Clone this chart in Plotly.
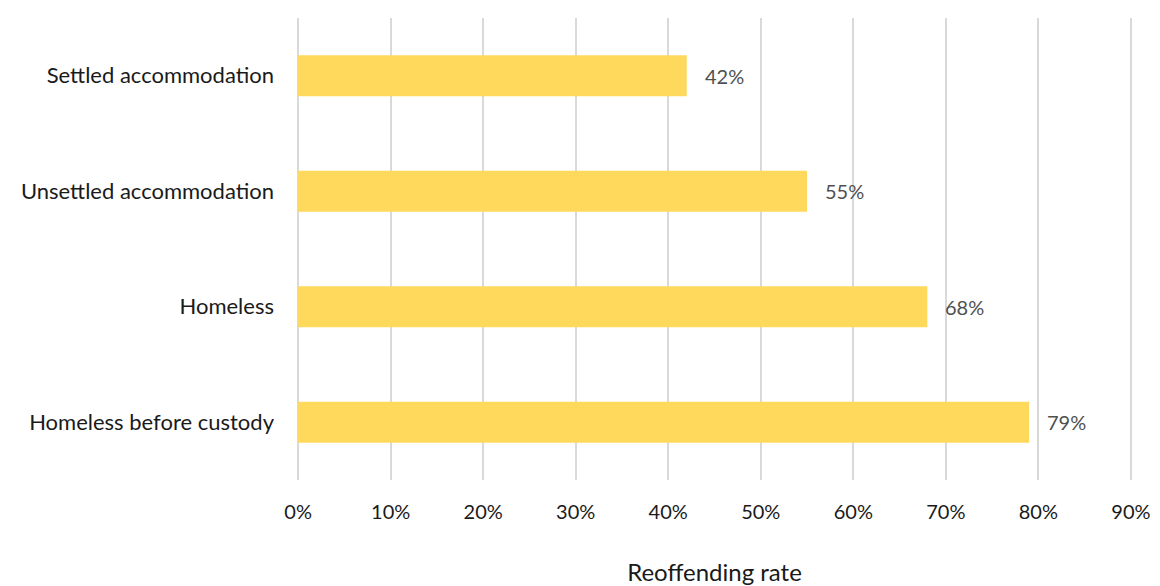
import plotly.graph_objects as go

categories = ["Homeless before custody", "Homeless", "Unsettled accommodation", "Settled accommodation"]
values = [79, 68, 55, 42]
tick_vals = [0, 10, 20, 30, 40, 50, 60, 70, 80, 90]
tick_text = [f"{v}%" for v in tick_vals]

bar_color = "#FFD95C"
font_family = "Lato, 'Open Sans', sans-serif"

fig = go.Figure()
fig.add_trace(go.Bar(
    x=values,
    y=categories,
    orientation="h",
    marker=dict(color=bar_color, line=dict(width=0)),
    width=0.355,
    hoverinfo="skip",
))

for c, v in zip(categories, values):
    fig.add_annotation(
        x=v, y=c, text=f"{v}%", showarrow=False,
        xanchor="left", yanchor="middle", xshift=16,
        font=dict(family=font_family, size=20, color="#505050"),
    )

fig.update_layout(
    width=1160, height=586,
    margin=dict(l=297, r=28, t=18, b=106),
    paper_bgcolor="white", plot_bgcolor="white",
    showlegend=False,
    font=dict(family=font_family, size=20, color="#1a1a1a"),
    xaxis=dict(
        range=[-0.12, 90.12],
        tickvals=tick_vals, ticktext=tick_text,
        tickfont=dict(family=font_family, size=20, color="#1a1a1a"),
        showgrid=True, gridcolor="#D9D9D9", gridwidth=2,
        zeroline=False, showline=False,
        ticks="", ticklabelstandoff=18,
        title=dict(text="Reoffending rate", standoff=44,
                   font=dict(family=font_family, size=24, color="#1a1a1a")),
        automargin=False,
        fixedrange=True,
    ),
    yaxis=dict(
        categoryorder="array", categoryarray=categories,
        range=[-0.5, 3.5],
        tickfont=dict(family=font_family, size=22, color="#1a1a1a"),
        showgrid=False, zeroline=False, showline=False,
        ticks="", ticklabelstandoff=22,
        automargin=False,
        fixedrange=True,
    ),
)

fig.write_html("out.html")
